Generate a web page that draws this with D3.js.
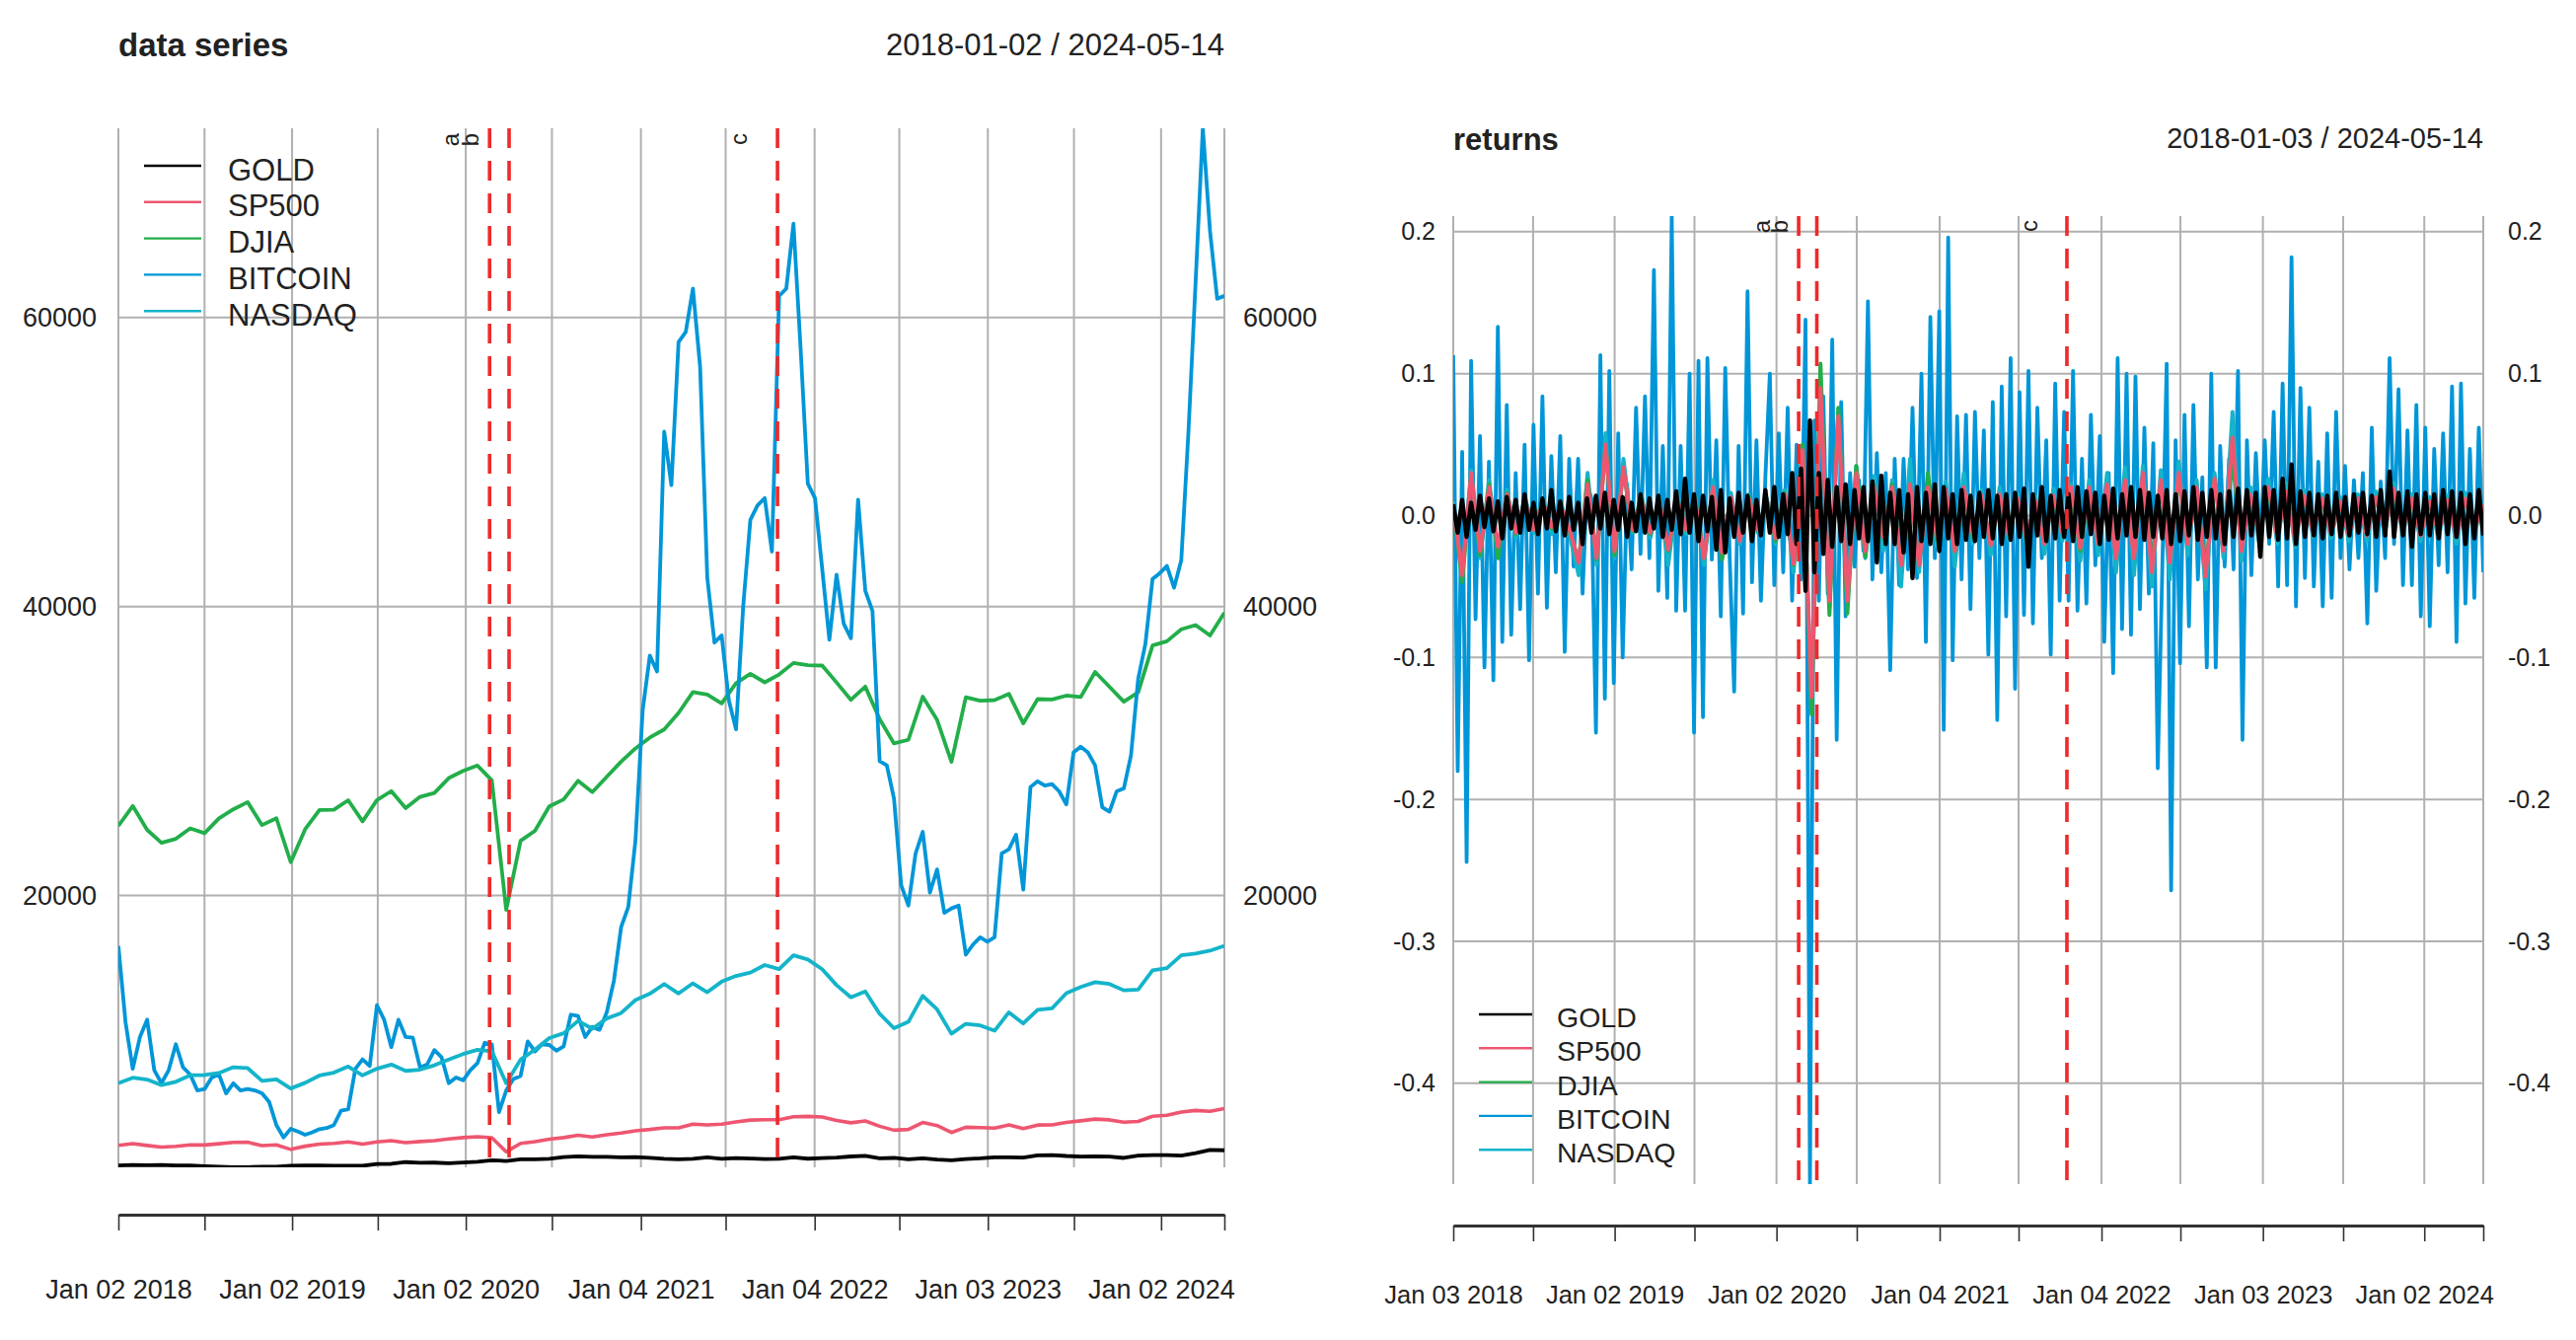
<!DOCTYPE html>
<html><head><meta charset="utf-8">
<script src="https://cdn.jsdelivr.net/npm/d3@7"></script>
<style>
html,body{margin:0;padding:0;background:#fff;}
svg{display:block;font-family:"Liberation Sans",Arial,Helvetica,sans-serif;}
</style></head><body>
<svg id="chart" width="2611" height="1358"></svg>
<script>
// ---------- series meta ----------
const seriesNames = ["GOLD","SP500","DJIA","BITCOIN","NASDAQ"];
const seriesColors = ["#000000","#EE5670","#22AE4A","#0096D8","#14B4CA"];

// ---------- price panel data ----------
const priceStart = "2018-01-02", priceEnd = "2024-05-14";
// Bitcoin, sampled about every 15 days
const btcPrice = [
16500,11200,8000,10200,11400,7900,7000,7900,9700,8100,
7600,6500,6600,7400,7600,6300,7000,6500,6600,6500,
6300,5700,4100,3250,3850,3650,3430,3600,3820,3900,
4100,5100,5200,8000,8650,8200,12400,11400,9500,11400,
10200,10150,8100,8300,9300,8800,7000,7400,7200,7900,
8400,9800,9700,5000,6500,7300,7500,9900,9200,9700,
9650,9250,9550,11750,11650,10200,10900,10700,11900,14100,
17800,19200,23800,32800,36600,35500,52100,48400,58300,59000,
62000,56600,42000,37500,38000,33500,31500,40000,46000,47000,
47500,43800,61500,62000,66500,57800,48500,47500,42600,37700,
42200,38800,37800,47400,41100,39700,29300,29000,26700,20700,
19300,22900,24400,20200,21800,18800,19100,19300,15900,16600,
17100,16800,17100,22900,23200,24200,20400,27500,27900,27600,
27700,27200,26300,29900,30300,29900,29000,26100,25800,27200,
27400,29700,35000,37400,41900,42300,42800,41300,43200,52100,
62500,73100,66000,61300,61500];
// monthly samples
const djiaPrice = [
24820,26190,24540,23640,23920,24640,24310,25330,25960,26460,
24870,25340,22300,24580,25920,25930,26590,25130,26600,27220,
26040,26820,27090,28120,28620,28990,27960,19000,23780,24470,
26160,26650,27930,27150,28210,29260,30180,30930,31490,32630,
34080,33900,33290,34690,35340,34750,35290,36090,35930,35910,
34740,33540,34450,32200,30520,30770,33760,32150,29240,33720,
33480,33520,33950,31910,33590,33560,33830,33730,35470,34440,
33410,34060,37300,37590,38420,38710,37990,39560];
const nasdaqPrice = [
7006,7385,7258,6870,7100,7554,7567,7707,8110,8046,
7161,7273,6635,7029,7533,7729,8161,7547,8006,8293,
7856,7940,8243,8648,9022,9314,9221,7000,8634,9325,
10131,10461,11311,10778,11484,11855,12755,13197,13865,13215,
13914,13299,14030,14427,14656,15181,14897,15853,15565,14893,
13791,12949,13351,11805,10809,11247,13047,12112,10426,11114,
11004,10635,11910,11138,12087,12179,13238,13660,13994,13872,
13431,13478,14814,14972,15859,15973,16175,16511];
const sp500Price = [
2695,2822,2691,2582,2636,2735,2726,2813,2902,2914,
2682,2738,2420,2640,2784,2834,2943,2783,2942,3020,
2887,2962,3023,3140,3240,3295,3225,2250,2837,2955,
3131,3236,3397,3281,3435,3557,3709,3799,3913,3913,
4163,4115,4166,4327,4448,4473,4471,4682,4709,4663,
4418,4262,4392,4023,3750,3801,4280,4067,3588,3956,
3934,3892,4118,3861,4105,4120,4293,4399,4518,4465,
4308,4358,4719,4783,5000,5117,5061,5247];
const goldPrice = [
1313,1345,1322,1341,1305,1298,1253,1222,1180,1191,
1222,1222,1281,1310,1313,1297,1283,1282,1409,1420,
1540,1498,1505,1456,1510,1571,1660,1620,1735,1730,
1765,1885,1945,1905,1910,1865,1885,1840,1776,1740,
1775,1870,1770,1815,1787,1755,1767,1866,1778,1818,
1860,1930,1975,1810,1830,1735,1800,1722,1667,1755,
1797,1872,1875,1860,2010,2030,1965,1925,1940,1918,
1830,1992,2020,2028,1992,2160,2380,2358];

// ---------- returns panel data ----------
const retStart = "2018-01-03", retEnd = "2024-05-14";
const btcRet = [
0.113,-0.18,0.045,-0.244,0.109,-0.073,0.056,-0.107,0.038,-0.116,0.133,-0.089,0.078,-0.084,0.03,-0.066,0.05,-0.102,0.064,-0.055,
0.084,-0.065,0.042,-0.04,0.056,-0.096,0.04,-0.036,0.04,-0.055,0.022,0.012,-0.153,0.113,-0.129,0.102,-0.118,0.058,-0.1,0.022,
-0.038,0.076,-0.027,0.084,-0.03,0.173,-0.053,0.049,-0.058,0.211,-0.067,0.049,-0.067,0.1,-0.153,0.109,-0.142,0.111,-0.031,0.053,
-0.071,0.104,-0.03,-0.124,0.049,-0.069,0.158,-0.047,0.053,-0.06,0.027,0.1,-0.049,0.058,-0.04,0.076,-0.06,0.05,-0.045,0.138,
-0.471,0.067,-0.06,0.084,-0.055,0.124,-0.158,0.08,-0.071,0.03,-0.036,0.025,-0.025,0.151,-0.045,0.044,-0.04,0.03,-0.109,0.04,
-0.049,0.04,-0.038,0.076,-0.044,0.1,-0.089,0.14,-0.03,0.144,-0.151,0.196,-0.102,0.07,-0.045,0.071,-0.066,0.073,-0.03,0.06,
-0.098,0.08,-0.144,0.091,-0.071,0.111,-0.122,0.087,-0.07,0.102,-0.076,0.076,-0.03,0.053,-0.098,0.093,-0.06,0.073,-0.06,0.102,
-0.067,0.04,-0.062,0.071,-0.035,0.056,-0.089,0.03,-0.111,0.111,-0.08,0.1,-0.084,0.098,-0.066,0.062,-0.055,0.051,-0.178,-0.04,
0.107,-0.264,0.053,-0.104,0.071,-0.078,0.078,-0.045,0.027,-0.107,0.1,-0.107,0.049,-0.036,0.04,-0.038,0.102,-0.158,0.053,-0.042,
0.044,-0.027,0.053,-0.02,0.073,-0.05,0.093,-0.049,0.182,-0.064,0.09,-0.044,0.076,-0.05,0.038,-0.064,0.058,-0.058,0.073,-0.03,
0.035,-0.038,0.025,-0.03,0.03,-0.076,0.062,-0.053,0.024,-0.03,0.111,-0.02,0.089,-0.049,0.06,-0.049,0.078,-0.071,0.062,-0.078,
0.047,-0.035,0.058,-0.04,0.091,-0.089,0.093,-0.062,0.047,-0.058,0.062,-0.04];
const goldRet = [
0.008,-0.012,0.011,-0.015,0.009,-0.01,0.014,-0.008,0.012,-0.011,0.01,-0.016,0.013,-0.009,0.011,-0.012,0.015,-0.01,0.009,-0.013,
0.012,-0.009,0.018,-0.011,0.01,-0.014,0.013,-0.01,0.009,-0.02,0.012,-0.012,0.014,-0.009,0.016,-0.013,0.011,-0.01,0.013,-0.015,
0.009,-0.011,0.015,-0.012,0.012,-0.009,0.014,-0.015,0.011,-0.01,0.017,-0.013,0.026,-0.012,0.015,-0.018,0.014,-0.011,0.013,-0.024,
0.018,-0.026,0.012,-0.015,0.016,-0.012,0.014,-0.018,0.011,-0.014,0.018,-0.012,0.02,-0.015,0.015,-0.013,0.03,-0.02,0.033,-0.053,
0.067,-0.04,0.03,-0.027,0.025,-0.022,0.02,-0.018,0.022,-0.02,0.018,-0.016,0.02,-0.018,0.024,-0.033,0.028,-0.02,0.016,-0.02,
0.018,-0.026,0.015,-0.044,0.02,-0.018,0.016,-0.02,0.022,-0.025,0.02,-0.016,0.015,-0.02,0.018,-0.017,0.014,-0.018,0.016,-0.015,
0.018,-0.016,0.014,-0.02,0.015,-0.017,0.016,-0.015,0.019,-0.036,0.015,-0.014,0.02,-0.018,0.014,-0.016,0.018,-0.015,0.015,-0.018,
0.02,-0.015,0.017,-0.013,0.016,-0.02,0.014,-0.017,0.019,-0.016,0.015,-0.014,0.02,-0.015,0.018,-0.017,0.016,-0.015,0.014,-0.016,
0.018,-0.02,0.015,-0.018,0.017,-0.014,0.02,-0.017,0.016,-0.015,0.018,-0.016,0.015,-0.02,0.017,-0.015,0.019,-0.016,0.018,-0.014,
0.016,-0.029,0.02,-0.015,0.018,-0.017,0.026,-0.016,0.036,-0.02,0.017,-0.015,0.016,-0.014,0.015,-0.016,0.014,-0.013,0.016,-0.015,
0.013,-0.014,0.015,-0.012,0.016,-0.013,0.014,-0.015,0.018,-0.014,0.031,-0.015,0.016,-0.014,0.017,-0.022,0.015,-0.013,0.016,-0.014,
0.015,-0.016,0.018,-0.013,0.017,-0.015,0.016,-0.02,0.015,-0.016,0.018,-0.014];
const sp500Ret = [
0.008,-0.042,0.03,-0.025,0.02,-0.022,0.015,-0.012,0.01,-0.01,0.009,-0.008,0.007,-0.01,-0.033,0.022,-0.03,0.05,
-0.025,0.034,-0.01,0.011,-0.012,0.01,-0.024,0.012,-0.01,0.011,-0.03,0.02,-0.026,0.013,-0.018,0.012,-0.01,0.01,
-0.016,0.015,-0.034,0.046,-0.128,0.09,-0.06,0.07,-0.06,0.03,-0.025,0.02,-0.015,0.02,-0.035,0.022,-0.035,0.02,
-0.015,0.018,-0.025,0.02,-0.013,0.014,-0.021,0.015,-0.013,0.012,-0.016,0.01,-0.02,0.014,-0.012,0.02,-0.023,0.02,
-0.02,0.022,-0.03,0.025,-0.03,0.03,-0.04,0.025,-0.033,0.03,-0.02,0.02,-0.043,0.026,-0.025,0.055,-0.025,0.015,
-0.015,0.02,-0.015,0.017,-0.018,0.014,-0.012,0.012,-0.013,0.01,-0.014,0.012,-0.014,0.013,-0.01,0.019,-0.01,0.012,
-0.014,0.01,-0.012,0.011,-0.015,0.012,-0.01,0.008];
const djiaRet = [
0.007,-0.047,0.026,-0.028,0.022,-0.03,0.016,-0.013,0.011,-0.009,0.01,-0.009,0.006,-0.011,-0.032,0.025,-0.031,0.05,
-0.028,0.033,-0.011,0.012,-0.013,0.01,-0.025,0.011,-0.01,0.012,-0.03,0.018,-0.031,0.012,-0.017,0.013,-0.01,0.011,
-0.018,0.016,-0.035,0.05,-0.14,0.107,-0.07,0.076,-0.069,0.035,-0.029,0.021,-0.016,0.022,-0.033,0.02,-0.035,0.03,
-0.017,0.016,-0.025,0.018,-0.015,0.013,-0.02,0.012,-0.012,0.011,-0.017,0.01,-0.019,0.012,-0.012,0.017,-0.025,0.018,
-0.018,0.019,-0.025,0.022,-0.026,0.027,-0.032,0.021,-0.03,0.027,-0.018,0.016,-0.039,0.026,-0.022,0.039,-0.02,0.014,
-0.014,0.017,-0.014,0.015,-0.016,0.012,-0.01,0.01,-0.012,0.009,-0.012,0.011,-0.011,0.012,-0.009,0.016,-0.009,0.011,
-0.012,0.009,-0.011,0.01,-0.013,0.011,-0.009,0.007];
const nasdaqRet = [
0.01,-0.04,0.032,-0.03,0.025,-0.028,0.018,-0.016,0.013,-0.012,0.011,-0.013,0.01,-0.014,-0.042,0.03,-0.035,0.058,
-0.03,0.04,-0.012,0.015,-0.016,0.013,-0.035,0.016,-0.013,0.014,-0.035,0.025,-0.03,0.016,-0.02,0.015,-0.012,0.012,
-0.02,0.018,-0.04,0.045,-0.13,0.085,-0.065,0.075,-0.055,0.035,-0.03,0.028,-0.025,0.025,-0.05,0.04,-0.04,0.026,
-0.022,0.024,-0.036,0.03,-0.02,0.018,-0.028,0.02,-0.017,0.015,-0.022,0.014,-0.027,0.019,-0.018,0.022,-0.032,0.025,
-0.028,0.03,-0.04,0.034,-0.042,0.035,-0.05,0.032,-0.045,0.038,-0.028,0.025,-0.052,0.03,-0.03,0.073,-0.032,0.02,
-0.02,0.026,-0.02,0.023,-0.022,0.018,-0.015,0.015,-0.016,0.013,-0.018,0.015,-0.018,0.017,-0.013,0.023,-0.013,0.015,
-0.018,0.013,-0.016,0.014,-0.02,0.016,-0.013,0.011];

// ---------- axes / events ----------
const priceTickDates = ["2018-01-02","2018-07-02","2019-01-02","2019-07-01","2020-01-02","2020-07-01","2021-01-04","2021-07-01","2022-01-04","2022-07-01","2023-01-03","2023-07-03","2024-01-02","2024-05-14"];
const retTickDates = ["2018-01-03","2018-07-02","2019-01-02","2019-07-01","2020-01-02","2020-07-01","2021-01-04","2021-07-01","2022-01-04","2022-07-01","2023-01-03","2023-07-03","2024-01-02","2024-05-14"];
const priceYTicks = [20000, 40000, 60000];
const retYTicks = [-0.4, -0.3, -0.2, -0.1, 0.0, 0.1, 0.2];
const eventDates = ["2020-02-21","2020-04-02","2021-10-18"];
const eventLabels = ["a","b","c"];

// ---------- drawing ----------
const parse = d3.timeParse("%Y-%m-%d");
const fmtTick = d3.timeFormat("%b %d %Y");
function evenDates(start, end, n){
  const a = parse(start).getTime(), b = parse(end).getTime();
  return d3.range(n).map(i => new Date(a + (b - a) * i / (n - 1)));
}
const svg = d3.select("#chart");
const TXT = "#222";

function panel(cfg){
  const g = svg.append("g");
  const x = d3.scaleTime().domain([parse(cfg.start), parse(cfg.end)]).range([cfg.x0, cfg.x1]);
  const allVals = cfg.series.flatMap(s => s.values);
  const y = d3.scaleLinear().domain(d3.extent(allVals)).range([cfg.y1, cfg.y0]);
  const ticks = cfg.tickDates.map(parse);

  // grid
  g.append("g").selectAll("line").data(ticks).join("line")
    .attr("x1", d => x(d)).attr("x2", d => x(d)).attr("y1", cfg.y0).attr("y2", cfg.y1)
    .attr("stroke", "#b0b0b0").attr("stroke-width", 2);
  g.append("g").selectAll("line").data(cfg.yTicks).join("line")
    .attr("x1", cfg.x0).attr("x2", cfg.x1).attr("y1", d => y(d)).attr("y2", d => y(d))
    .attr("stroke", "#b0b0b0").attr("stroke-width", 2);

  // y labels both sides
  const yl = g.append("g").attr("transform", `translate(${cfg.x0},0)`)
    .call(d3.axisLeft(y).tickValues(cfg.yTicks).tickSize(0).tickPadding(cfg.yPadL).tickFormat(cfg.yFormat));
  const yr = g.append("g").attr("transform", `translate(${cfg.x1},0)`)
    .call(d3.axisRight(y).tickValues(cfg.yTicks).tickSize(0).tickPadding(cfg.yPadR).tickFormat(cfg.yFormat));
  [yl, yr].forEach(a => {
    a.select(".domain").remove();
    a.selectAll("text").attr("font-size", cfg.yFont).attr("fill", TXT)
      .attr("font-family", '"Liberation Sans", Arial, sans-serif');
  });

  // x axis
  const xa = g.append("g").attr("transform", `translate(0,${cfg.axisY})`)
    .call(d3.axisBottom(x).tickValues(ticks).tickSize(16).tickSizeOuter(0).tickPadding(cfg.xPad)
      .tickFormat(d => d.getMonth() === 0 ? fmtTick(d) : ""));
  xa.select(".domain").attr("stroke", "#333").attr("stroke-width", 3.2);
  xa.selectAll(".tick line").attr("stroke", "#333").attr("stroke-width", 1.6);
  xa.selectAll("text").attr("font-size", cfg.xFont).attr("fill", TXT)
    .attr("font-family", '"Liberation Sans", Arial, sans-serif');

  // clip
  const cid = "clip" + cfg.id;
  svg.append("defs").append("clipPath").attr("id", cid).append("rect")
    .attr("x", cfg.x0).attr("y", cfg.y0).attr("width", cfg.x1 - cfg.x0).attr("height", cfg.y1 - cfg.y0);
  const lines = g.append("g").attr("clip-path", `url(#${cid})`);
  cfg.order.forEach(idx => {
    const s = cfg.series[idx];
    const dates = evenDates(cfg.start, cfg.end, s.values.length);
    const line = d3.line().x((d, i) => x(dates[i])).y(d => y(d));
    lines.append("path").datum(s.values).attr("d", line)
      .attr("fill", "none").attr("stroke", seriesColors[idx]).attr("stroke-width", cfg.lw[idx])
      .attr("stroke-linejoin", "round").attr("stroke-linecap", "butt");
  });

  // events
  eventDates.forEach((ds, k) => {
    const ex = x(parse(ds));
    g.append("line").attr("x1", ex).attr("x2", ex).attr("y1", cfg.y0).attr("y2", cfg.y1)
      .attr("stroke", "#EE2A2A").attr("stroke-width", 3.6).attr("stroke-dasharray", "20,13");
    g.append("text").attr("transform", `translate(${ex - cfg.evOff},${cfg.evTop}) rotate(-90)`)
      .attr("text-anchor", "end").attr("dominant-baseline", "central")
      .attr("font-size", 24).attr("fill", TXT).text(eventLabels[k]);
  });

  // legend
  seriesNames.forEach((nm, k) => {
    const ly = cfg.leg.y + k * cfg.leg.step;
    g.append("line").attr("x1", cfg.leg.x0).attr("x2", cfg.leg.x1).attr("y1", ly).attr("y2", ly)
      .attr("stroke", seriesColors[k]).attr("stroke-width", 2.4);
    g.append("text").attr("x", cfg.leg.tx).attr("y", ly + cfg.leg.dy).attr("dominant-baseline", "central")
      .attr("font-size", cfg.leg.font).attr("fill", TXT).text(nm);
  });

  // titles
  g.append("text").attr("x", cfg.x0).attr("y", cfg.titleY).attr("font-size", cfg.titleFont)
    .attr("font-weight", "bold").attr("fill", TXT).text(cfg.title);
  g.append("text").attr("x", cfg.x1).attr("y", cfg.rangeY).attr("text-anchor", "end")
    .attr("font-size", cfg.rangeFont).attr("fill", TXT).text(`${cfg.start} / ${cfg.end}`);
}

panel({
  id: "L", start: priceStart, end: priceEnd,
  x0: 120, x1: 1241, y0: 130, y1: 1183, axisY: 1231,
  series: [{values: goldPrice}, {values: sp500Price}, {values: djiaPrice}, {values: btcPrice}, {values: nasdaqPrice}],
  order: [0, 1, 2, 3, 4], lw: [3.8, 3.6, 3.8, 3.8, 3.8],
  tickDates: priceTickDates, xFont: 27, xPad: 50,
  yTicks: priceYTicks, yFormat: d3.format("d"), yFont: 27, yPadL: 22, yPadR: 19,
  evOff: 40, evTop: 135,
  leg: {x0: 146, x1: 204, y: 168, step: 36.8, tx: 231, dy: 4, font: 31},
  title: "data series", titleFont: 33, titleY: 57, rangeY: 56, rangeFont: 31
});

panel({
  id: "R", start: retStart, end: retEnd,
  x0: 1473, x1: 2517, y0: 219, y1: 1200, axisY: 1242,
  series: [{values: goldRet}, {values: sp500Ret}, {values: djiaRet}, {values: btcRet}, {values: nasdaqRet}],
  order: [3, 4, 2, 1, 0], lw: [4.4, 4, 4, 3.8, 4],
  tickDates: retTickDates, xFont: 25.5, xPad: 45,
  yTicks: retYTicks, yFormat: v => v.toFixed(1), yFont: 25, yPadL: 18, yPadR: 25,
  evOff: 38, evTop: 223,
  leg: {x0: 1499, x1: 1553, y: 1028, step: 34.3, tx: 1578, dy: 3, font: 28.5},
  title: "returns", titleFont: 31, titleY: 152, rangeY: 150, rangeFont: 29
});
</script>
</body></html>
